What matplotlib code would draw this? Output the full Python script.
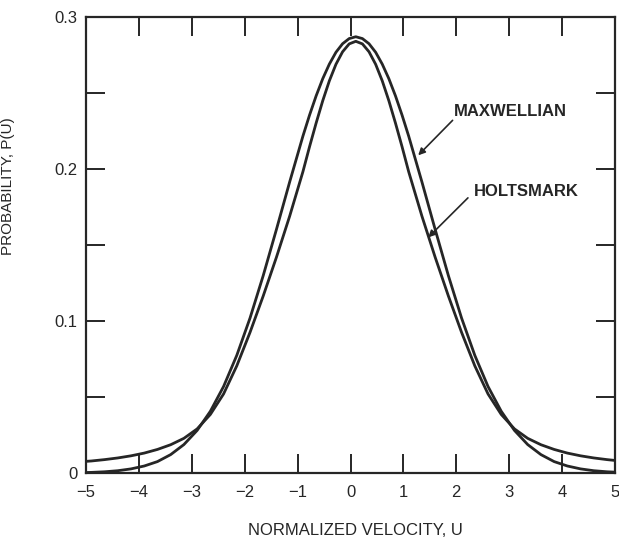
import matplotlib
matplotlib.use("Agg")
import matplotlib.pyplot as plt
from matplotlib.ticker import MultipleLocator

plt.rcParams['font.family'] = ['Liberation Sans', 'DejaVu Sans']

# values (U, P(U))
u_vals = [-5.15, -4.9, -4.65, -4.4, -4.15, -3.9, -3.65, -3.4, -3.15, -2.9,
          -2.65, -2.4, -2.15, -1.9, -1.65, -1.4, -1.15,
          -0.9, -0.775, -0.65, -0.525, -0.4, -0.275, -0.15, -0.025,
          0.1, 0.225, 0.35, 0.475, 0.6, 0.725, 0.85, 0.975, 1.1,
          1.35, 1.6, 1.85, 2.1, 2.35, 2.6, 2.85, 3.1, 3.35, 3.6,
          3.85, 4.1, 4.35, 4.6, 4.85, 5.1]

maxwellian = [0.0002, 0.0004, 0.0008, 0.0015, 0.0027, 0.0046, 0.0075, 0.0121, 0.0187, 0.0280,
              0.0406, 0.0569, 0.0774, 0.1019, 0.1299, 0.1603, 0.1915,
              0.2216, 0.2354, 0.2481, 0.2594, 0.2690, 0.2768, 0.2824, 0.2858,
              0.2870, 0.2858, 0.2824, 0.2768, 0.2690, 0.2594, 0.2481, 0.2354, 0.2216,
              0.1915, 0.1603, 0.1299, 0.1019, 0.0774, 0.0569, 0.0406, 0.0280, 0.0187, 0.0121,
              0.0075, 0.0046, 0.0027, 0.0015, 0.0008, 0.0004]

holtsmark = [0.0073, 0.0079, 0.0088, 0.0099, 0.0113, 0.0131, 0.0155, 0.0186, 0.0228, 0.0290,
             0.0385, 0.0520, 0.0705, 0.0925, 0.1165, 0.1420, 0.1690,
             0.1982, 0.2146, 0.2302, 0.2449, 0.2580, 0.2689, 0.2771, 0.2823,
             0.2840, 0.2823, 0.2771, 0.2689, 0.2580, 0.2449, 0.2302, 0.2146, 0.1982,
             0.1690, 0.1420, 0.1165, 0.0925, 0.0705, 0.0520, 0.0385, 0.0290, 0.0228, 0.0186,
             0.0155, 0.0131, 0.0113, 0.0099, 0.0088, 0.0079]

x_ticks = [-5, -4, -3, -2, -1, 0, 1, 2, 3, 4, 5]
y_ticks = [0, 0.1, 0.2, 0.3]
y_labels = ['0', '0.1', '0.2', '0.3']

ink = '#262626'

fig = plt.figure(figsize=(6.19, 5.41), dpi=100)
ax = fig.add_axes([0.139, 0.1257, 0.8545, 0.8429])

ax.plot(u_vals, maxwellian, color=ink, lw=2.0, solid_joinstyle='round')
ax.plot(u_vals, holtsmark, color=ink, lw=2.0, solid_joinstyle='round')

ax.set_xlim(-5, 5)
ax.set_ylim(0, 0.3)
ax.set_xticks(x_ticks)
ax.set_xticklabels([str(t) if t >= 0 else '\u2212' + str(-t) for t in x_ticks])
ax.set_yticks(y_ticks)
ax.set_yticklabels(y_labels)
ax.yaxis.set_minor_locator(MultipleLocator(0.05))

ax.tick_params(axis='both', which='both', direction='in', length=14, width=1.4,
               color=ink, top=True, right=True, labelsize=12, labelcolor=ink)
ax.tick_params(axis='x', pad=9)
ax.tick_params(axis='y', pad=6)
for s in ax.spines.values():
    s.set_linewidth(1.6)
    s.set_color(ink)

ax.set_xlabel('NORMALIZED VELOCITY, U', fontsize=12, color=ink)
ax.xaxis.set_label_coords(0.51, -0.11)
ax.set_ylabel('PROBABILITY, P(U)', fontsize=11, color=ink)
ax.yaxis.set_label_coords(-0.134, 0.63)

arrow = dict(arrowstyle='-|>', color=ink, lw=1.2, mutation_scale=10, shrinkA=0, shrinkB=0)
ax.annotate('', xy=(1.28, 0.209), xytext=(1.93, 0.232), arrowprops=arrow)
ax.text(1.95, 0.2375, 'MAXWELLIAN', fontsize=12, fontweight='bold', color=ink,
        ha='left', va='center')
ax.annotate('', xy=(1.47, 0.155), xytext=(2.22, 0.181), arrowprops=arrow)
ax.text(2.33, 0.185, 'HOLTSMARK', fontsize=12, fontweight='bold', color=ink,
        ha='left', va='center')

fig.savefig('out.png', dpi=100)
